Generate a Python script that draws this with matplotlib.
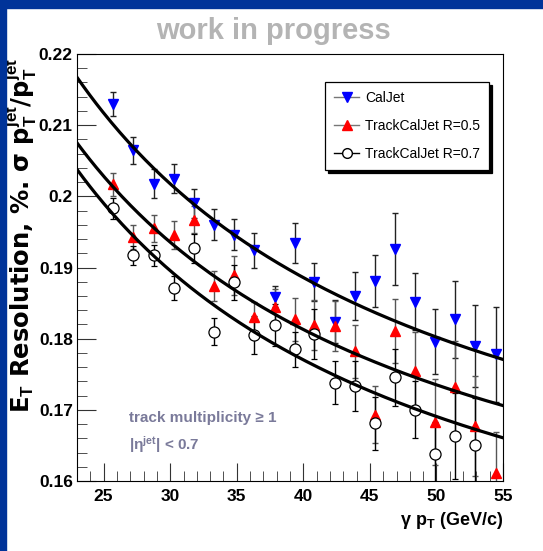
import numpy as np
import matplotlib
matplotlib.use("Agg")
import matplotlib.pyplot as plt
from matplotlib.patches import Rectangle
from matplotlib.lines import Line2D
from matplotlib.ticker import MultipleLocator

plt.rcParams['font.family'] = ['Liberation Sans', 'DejaVu Sans']
plt.rcParams['mathtext.fontset'] = 'custom'
plt.rcParams['mathtext.rm'] = 'Liberation Sans'
plt.rcParams['mathtext.it'] = 'Liberation Sans:italic'
plt.rcParams['mathtext.bf'] = 'Liberation Sans:bold'

# photon pT bin centres (GeV/c)
pt = [25.73, 27.23, 28.79, 30.29, 31.82, 33.30, 34.83, 36.33, 37.89, 39.40,
      40.82, 42.35, 43.85, 45.40, 46.90, 48.41, 49.92, 51.42, 52.92, 54.48]

# CalJet
cal_y = [0.2130, 0.2065, 0.2018, 0.2025, 0.1990, 0.1960, 0.1946, 0.1924, 0.1859, 0.1934,
         0.1880, 0.1824, 0.1860, 0.1881, 0.1926, 0.1852, 0.1796, 0.1827, 0.1790, 0.1778]
cal_err = [0.0017, 0.0019, 0.0020, 0.0020, 0.0020, 0.0022, 0.0022, 0.0025, 0.0015, 0.0028,
           0.0027, 0.0030, 0.0034, 0.0037, 0.0050, 0.0040, 0.0045, 0.0054, 0.0058, 0.0067]

# TrackCalJet R=0.5
r05_y = [0.2017, 0.1943, 0.1955, 0.1946, 0.1967, 0.1874, 0.1889, 0.1831, 0.1845, 0.1827,
         0.1819, 0.1818, 0.1782, 0.1693, 0.1811, 0.1754, 0.1683, 0.1732, 0.1677, 0.1611]
r05_err = [0.0016, 0.0017, 0.0019, 0.0020, 0.0019, 0.0021, 0.0027, 0.0020, 0.0025, 0.0030,
           0.0035, 0.0035, 0.0037, 0.0040, 0.0045, 0.0055, 0.0060, 0.0065, 0.0070, 0.0058]

# TrackCalJet R=0.7 (last bin off scale)
r07_y = [0.1983, 0.1917, 0.1917, 0.1871, 0.1927, 0.1810, 0.1879, 0.1805, 0.1819, 0.1785,
         0.1807, 0.1738, 0.1733, 0.1681, 0.1746, 0.1700, 0.1638, 0.1663, 0.1651]
r07_err = [0.0015, 0.0013, 0.0015, 0.0017, 0.0020, 0.0019, 0.0025, 0.0027, 0.0030, 0.0025,
           0.0035, 0.0030, 0.0035, 0.0037, 0.0040, 0.0040, 0.0045, 0.0060, 0.0065]

# fit  sigma = sqrt(a^2/pT + b^2)
fit_a = [0.7856, 0.7428, 0.7425]
fit_b = [0.1419, 0.1381, 0.1325]

fig = plt.figure(figsize=(5.43, 5.51), dpi=100)
fig.patches.append(Rectangle((0, 1 - 8/551), 1, 8/551, transform=fig.transFigure,
                             color='#003399', zorder=0))
fig.patches.append(Rectangle((0, 0), 6/543, 1, transform=fig.transFigure,
                             color='#003399', zorder=0))

ax = fig.add_axes([77/543, 70/551, 426/543, 427/551])

ax.errorbar(pt, cal_y, yerr=cal_err, fmt='v', color='blue', ms=7, mec='blue',
            ecolor='#222222', elinewidth=1, capsize=2, zorder=3)
ax.errorbar(pt, r05_y, yerr=r05_err, fmt='^', color='red', ms=7, mec='red',
            ecolor='#555555', elinewidth=1, capsize=2, zorder=3)
ax.errorbar(pt[:len(r07_y)], r07_y, yerr=r07_err, fmt='o', mfc='white', mec='black',
            ms=8, mew=0.9, ecolor='black', elinewidth=1, capsize=2, zorder=3)

xx = np.linspace(23, 55, 200)
for a, b in zip(fit_a, fit_b):
    ax.plot(xx, np.sqrt(a**2 / xx + b**2), color='black', lw=2.3, zorder=4)

ax.set_xlim(23, 55)
ax.set_ylim(0.16, 0.22)
ax.xaxis.set_major_locator(MultipleLocator(5))
ax.xaxis.set_minor_locator(MultipleLocator(1))
ax.yaxis.set_minor_locator(MultipleLocator(0.002))
ax.set_yticks([0.16, 0.17, 0.18, 0.19, 0.2, 0.21, 0.22])
ax.set_yticklabels(['0.16', '0.17', '0.18', '0.19', '0.2', '0.21', '0.22'])
ax.tick_params(which='both', direction='in', top=False, right=False, color='#333333')
ax.tick_params(axis='y', which='major', length=14, pad=3)
ax.tick_params(axis='y', which='minor', length=7)
ax.tick_params(axis='x', which='major', length=13, pad=6)
ax.tick_params(axis='x', which='minor', length=7)
for lab in ax.get_xticklabels() + ax.get_yticklabels():
    lab.set_fontsize(12.5)
    lab.set_fontweight('bold')

ax.text(1.0, -0.092, r'γ p$_\mathbf{T}$ (GeV/c)', transform=ax.transAxes,
        ha='right', va='center', fontsize=13, fontweight='bold')
ax.text(-0.13, 0.99,
        r'E$_\mathbf{T}$ Resolution, %. σ p$_\mathbf{T}^\mathbf{jet}$/p$_\mathbf{T}^\mathbf{jet}$',
        transform=ax.transAxes, rotation=90, ha='center', va='top',
        fontsize=17.5, fontweight='bold', family=['DejaVu Sans'])

fig.text(0.503, 1 - 31/551, 'work in progress', ha='center', va='center',
         fontsize=21, fontweight='bold', color='#b4b4b4')

ax.text(0.123, 0.147, 'track multiplicity ≥ 1', transform=ax.transAxes,
        fontsize=11, fontweight='bold', color='#7a7a9a', va='center')
ax.text(0.123, 0.085, r'|η$^\mathbf{jet}$| < 0.7', transform=ax.transAxes,
        fontsize=11, fontweight='bold', color='#7a7a9a', va='center')

handles = [
    Line2D([], [], color='#777777', lw=1, marker='v', ms=7, mfc='blue', mec='blue'),
    Line2D([], [], color='#777777', lw=1, marker='^', ms=7, mfc='red', mec='red'),
    Line2D([], [], color='black', lw=1, marker='o', ms=7, mfc='white', mec='black'),
]
leg = ax.legend(handles, ['CalJet', 'TrackCalJet R=0.5', 'TrackCalJet R=0.7'],
                loc='upper right', bbox_to_anchor=(0.967, 0.934), borderaxespad=0,
                fontsize=10, frameon=True, fancybox=False, edgecolor='black',
                labelspacing=1.0, handlelength=1.8, handletextpad=0.4,
                borderpad=0.65, shadow={'color': 'black', 'alpha': 1})
leg.get_frame().set_linewidth(0.9)

fig.savefig('out.png', dpi=100)
